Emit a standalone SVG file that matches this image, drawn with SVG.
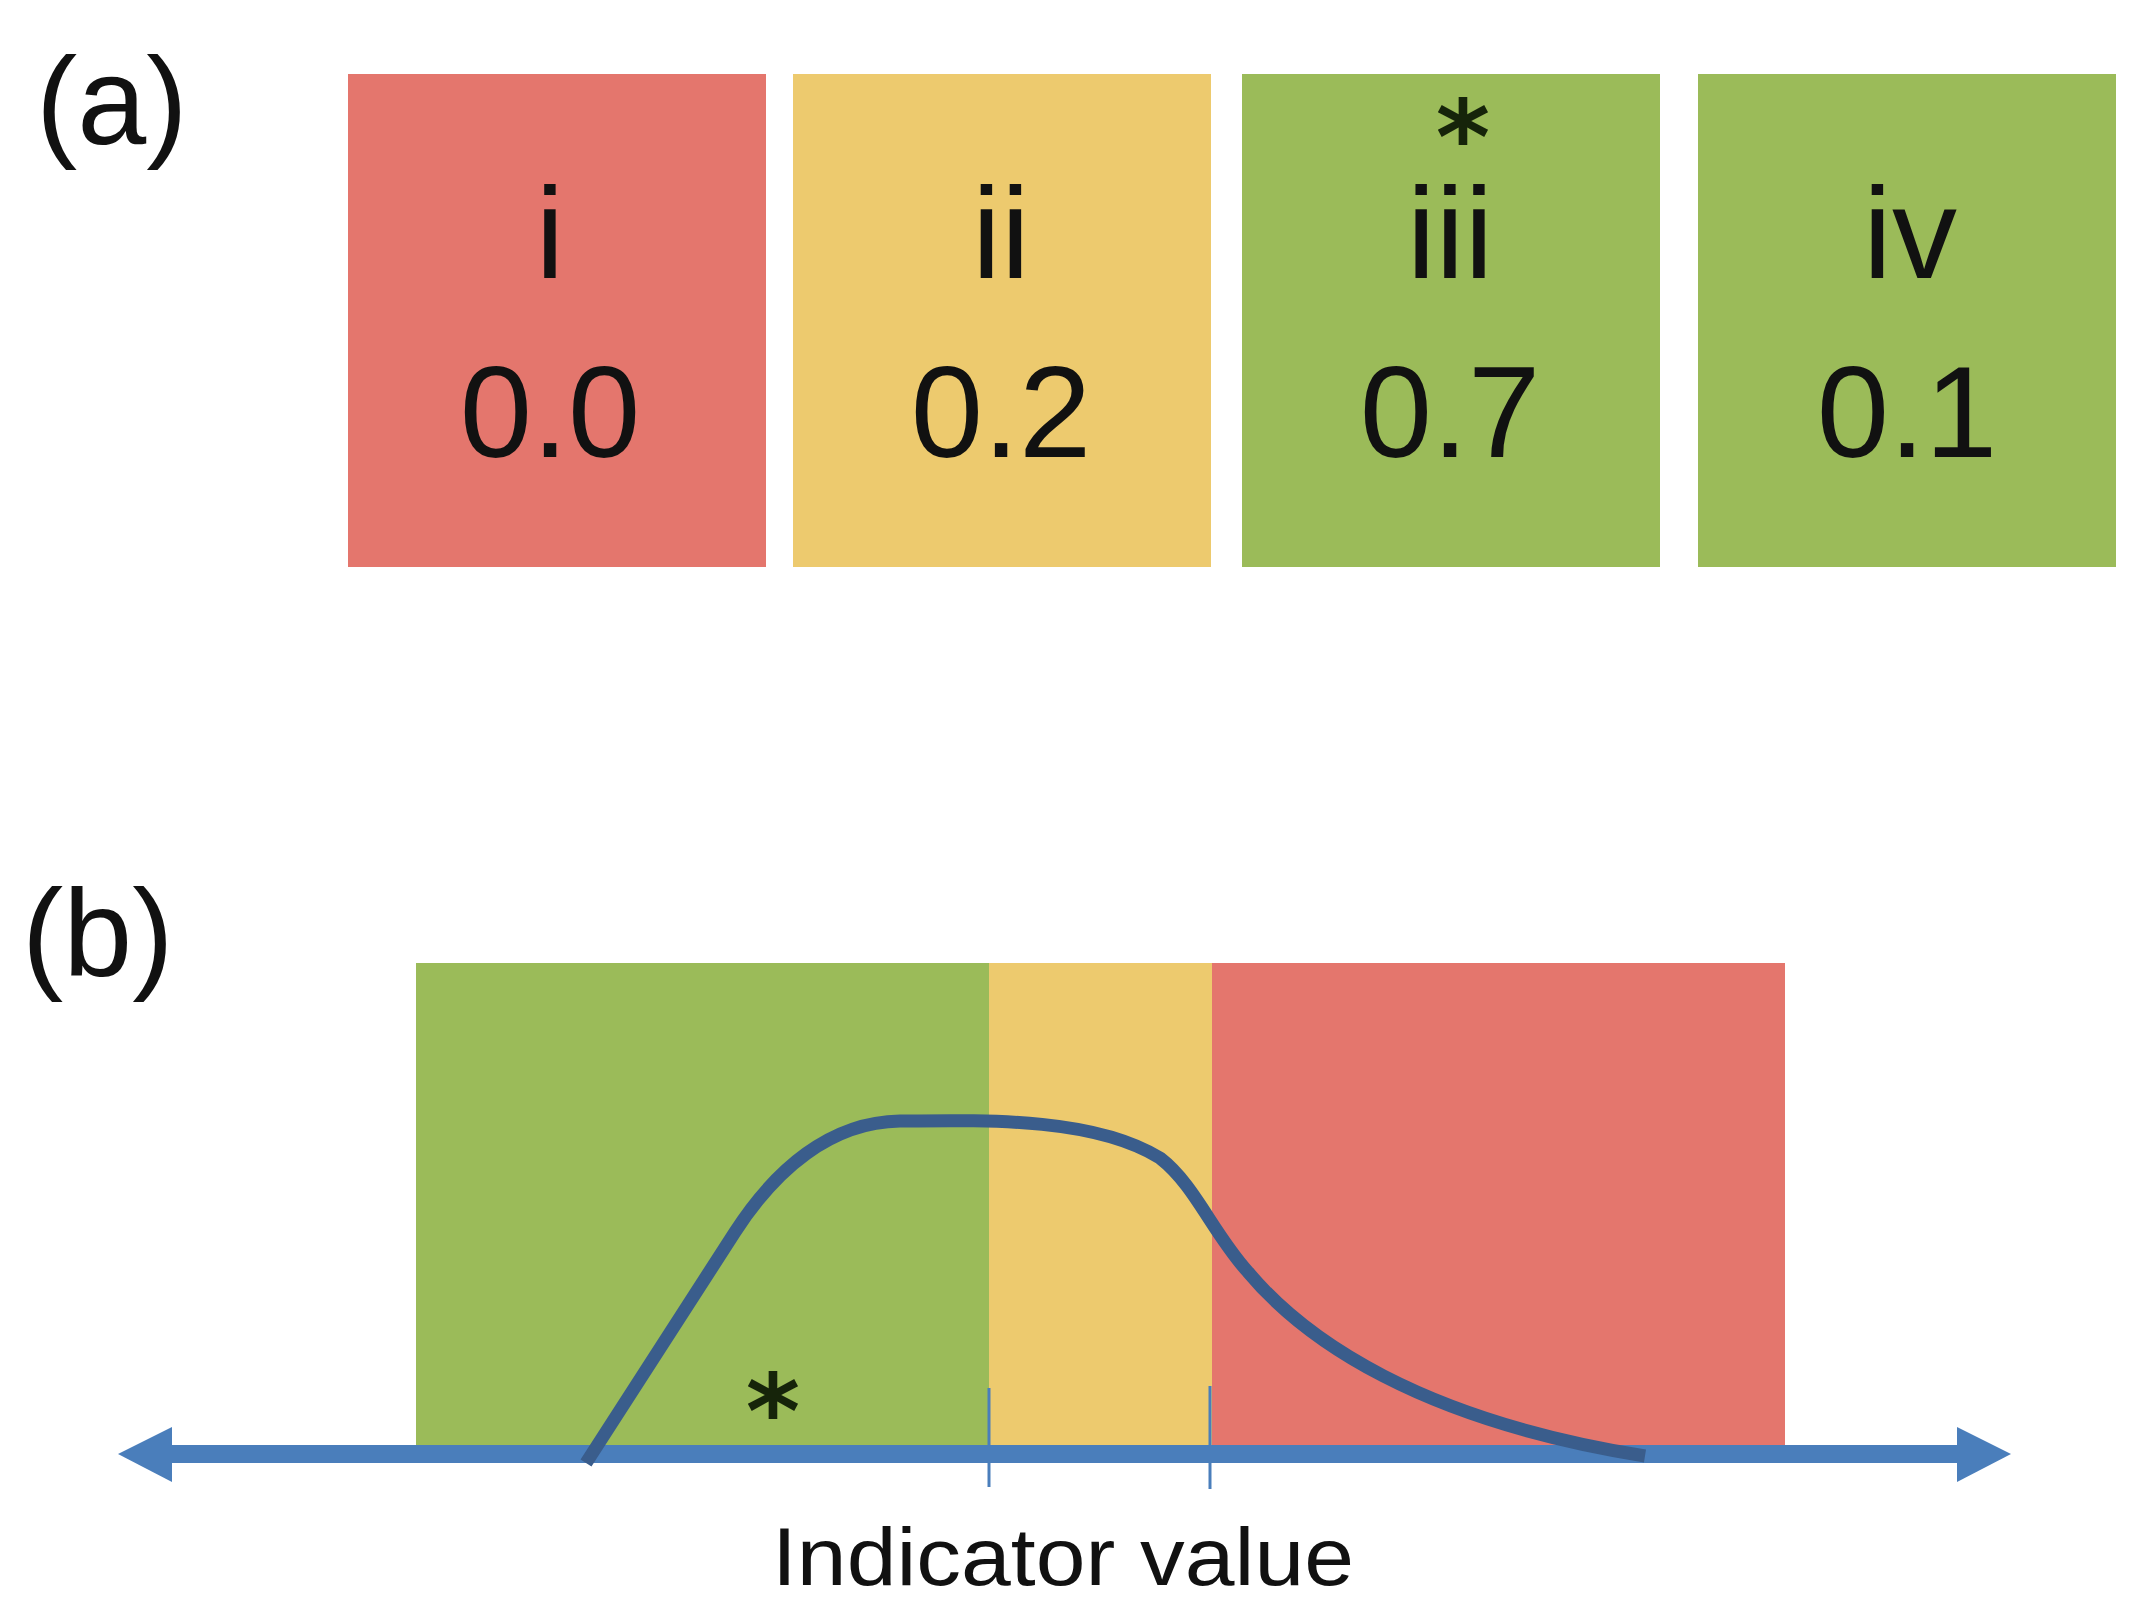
<svg xmlns="http://www.w3.org/2000/svg" width="2145" height="1620" viewBox="0 0 2145 1620">
<defs>
<style>
.lbl{font-family:"Liberation Sans",Arial,sans-serif;fill:#111;}
.big{font-size:130px;text-anchor:middle;}
.pan{font-size:124px;}
.ast{font-family:"DejaVu Sans",sans-serif;font-weight:bold;font-size:104px;text-anchor:middle;fill:#16240a;}
.red{fill:#E4766D;}
.yel{fill:#EDCA6E;}
.grn{fill:#9BBB59;}
</style>
</defs>
<rect width="2145" height="1620" fill="#ffffff"/>
<text class="lbl pan" x="36" y="144">(a)</text>
<g id="box-i"><rect class="red" x="348" y="74" width="418" height="493"/>
<text class="lbl big" x="550" y="278">i</text><text class="lbl big" x="550" y="457">0.0</text></g>
<g id="box-ii"><rect class="yel" x="793" y="74" width="418" height="493"/>
<text class="lbl big" x="1001" y="278">ii</text><text class="lbl big" x="1001" y="457">0.2</text></g>
<g id="box-iii"><rect class="grn" x="1242" y="74" width="418" height="493"/>
<text class="ast" x="1463" y="174">*</text>
<text class="lbl big" x="1450" y="278">iii</text><text class="lbl big" x="1450" y="457">0.7</text></g>
<g id="box-iv"><rect class="grn" x="1698" y="74" width="418" height="493"/>
<text class="lbl big" x="1910" y="278">iv</text><text class="lbl big" x="1907" y="457">0.1</text></g>

<text class="lbl pan" x="22" y="976">(b)</text>
<g id="zones">
<rect class="grn" x="416" y="963" width="573" height="482"/>
<rect class="yel" x="989" y="963" width="223" height="482"/>
<rect class="red" x="1212" y="963" width="573" height="482"/>
</g>
<text class="ast" x="773" y="1448">*</text>
<g id="connectors">
<line x1="165" y1="1454" x2="1962" y2="1454" stroke="#4A7EBB" stroke-width="18"/>
<polygon points="118,1454 172,1427 172,1482" fill="#4A7EBB"/>
<polygon points="2011,1454 1957,1427 1957,1482" fill="#4A7EBB"/>
<line x1="989" y1="1388" x2="989" y2="1487" stroke="#4A7EBB" stroke-width="3"/>
<line x1="1210" y1="1386" x2="1210" y2="1489" stroke="#4A7EBB" stroke-width="3"/>
<path d="M586,1463 L735,1232 C775,1170 830,1122 900,1121 C990,1120 1095,1118 1160,1158 C1195,1185 1212,1232 1248,1272 C1305,1340 1420,1420 1645,1456" fill="none" stroke="#3A5D8C" stroke-width="13"/>
</g>
<text class="lbl" x="772" y="1585" font-size="82" fill="#333" textLength="582" lengthAdjust="spacingAndGlyphs">Indicator value</text>
</svg>
